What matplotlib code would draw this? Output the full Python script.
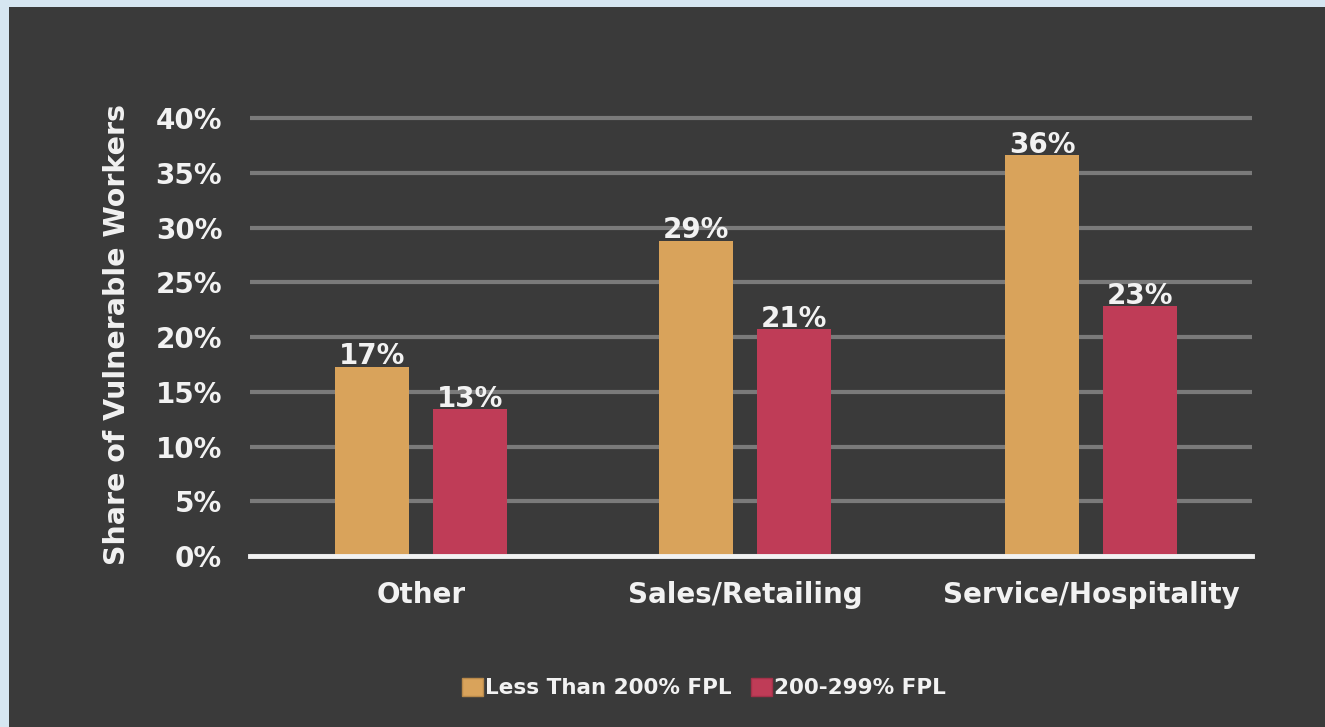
import matplotlib
matplotlib.use('Agg')
import matplotlib.pyplot as plt
from matplotlib.patches import Rectangle, Patch
import numpy as np

plt.rcParams['font.family'] = ['DejaVu Sans']
plt.rcParams['font.weight'] = 'bold'

categories = ['Other', 'Sales/Retailing', 'Service/Hospitality']
series_names = ['Less Than 200% FPL', '200-299% FPL']
less_200 = [17.3, 28.8, 36.6]
fpl_200_299 = [13.4, 20.7, 22.8]
value_labels_less = ['17%', '29%', '36%']
value_labels_mid = ['13%', '21%', '23%']
yticks = [0, 5, 10, 15, 20, 25, 30, 35, 40]

bg = '#3a3a3a'
orange = '#d9a35b'
red = '#bf3c57'
grid = '#7a7a7a'
white = '#f2f2f2'
wt = 'bold'
fs = 20

fig = plt.figure(figsize=(13.25, 7.27), dpi=100)
fig.patch.set_facecolor('#d6e6f1')
fig.patches.append(Rectangle((9 / 1325, 0), 1, 1 - 7 / 727, transform=fig.transFigure,
                             facecolor=bg, edgecolor='none', zorder=-10))

ax = fig.add_axes([250 / 1325, 171 / 727, 1002 / 1325, 0.61])
ax.patch.set_alpha(0)

# group centres (the middle group sits a little left of centre in the original)
x = np.array([0, 0.967, 2.0])
w = 0.22
off = 0.146
b1 = ax.bar(x - off, less_200, w, color=orange, zorder=3)
b2 = ax.bar(x + off, fpl_200_299, w, color=red, zorder=3)

for bars, labels in ((b1, value_labels_less), (b2, value_labels_mid)):
    for rect, lab in zip(bars, labels):
        ax.text(rect.get_x() + rect.get_width() / 2, rect.get_height() - 0.35, lab,
                ha='center', va='bottom', color=white, fontsize=fs, fontweight=wt, zorder=4)

ax.set_xlim(-0.51, 2.48)
ax.set_ylim(0, 40.5)
ax.set_yticks(yticks)
ax.set_yticklabels([f'{t}%' for t in yticks])
ax.yaxis.grid(True, color=grid, linewidth=3, zorder=1)
ax.set_axisbelow(True)
ax.set_xticks(x)
ax.set_xticklabels(categories)
ax.tick_params(axis='both', length=0, colors=white, labelsize=fs)
ax.tick_params(axis='y', pad=20)
ax.tick_params(axis='x', pad=18)
for lab in ax.get_xticklabels() + ax.get_yticklabels():
    lab.set_fontweight(wt)
for s in ['top', 'right', 'left']:
    ax.spines[s].set_visible(False)
ax.spines['bottom'].set_color(white)
ax.spines['bottom'].set_linewidth(3.5)
ax.spines['bottom'].set_zorder(5)

ax.set_ylabel('Share of Vulnerable Workers', color=white, fontsize=fs + 0.5, fontweight=wt, labelpad=18)

handles = [Patch(facecolor=orange, edgecolor='#b8894a', label=series_names[0]),
           Patch(facecolor=red, edgecolor='#a33149', label=series_names[1])]
leg = fig.legend(handles=handles, loc='center', bbox_to_anchor=(704 / 1325, 1 - 688 / 727),
                 ncol=2, frameon=False, fontsize=15.5, handlelength=0.95, handleheight=0.95,
                 handletextpad=0.1, columnspacing=0.9)
for t in leg.get_texts():
    t.set_color(white)
    t.set_fontweight(wt)

fig.savefig('out.png', dpi=100, facecolor=fig.get_facecolor())
